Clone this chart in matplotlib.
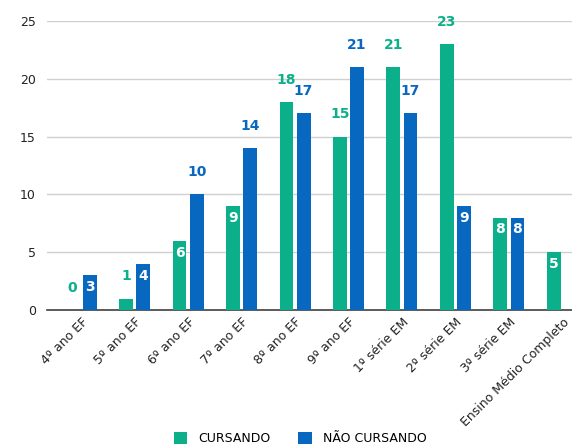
import matplotlib
matplotlib.use("Agg")
import matplotlib.pyplot as plt
import numpy as np

categories = ["4º ano EF", "5º ano EF", "6º ano EF", "7º ano EF", "8º ano EF",
              "9º ano EF", "1º série EM", "2º série EM", "3º série EM",
              "Ensino Médio Completo"]
cursando = [0, 1, 6, 9, 18, 15, 21, 23, 8, 5]
nao_cursando = [3, 4, 10, 14, 17, 21, 17, 9, 8, np.nan]
series_names = ["CURSANDO", "NÃO CURSANDO"]
yticks = [0, 5, 10, 15, 20, 25]

GREEN = "#0BB08A"
BLUE = "#0868C0"

fig = plt.figure(figsize=(5.72, 4.45), dpi=100)
ax = fig.add_axes([0.082, 0.303, 0.918, 0.650])

x = np.arange(len(categories))
w = 0.26
off = 0.16

for vals, color, sign, name in [(cursando, GREEN, -1, series_names[0]),
                                (nao_cursando, BLUE, 1, series_names[1])]:
    vals = np.array(vals, dtype=float)
    mask = ~np.isnan(vals)
    ax.bar(x[mask] + sign * off, vals[mask], width=w, color=color, label=name,
           zorder=3)
    for xi, v in zip(x[mask], vals[mask]):
        xp = xi + sign * off
        if 2 <= v < 10:
            ax.annotate(f"{int(v)}", (xp, v), xytext=(0, -8.5),
                        textcoords="offset points", ha="center", va="center",
                        color="white", fontsize=10, fontweight="bold", zorder=4)
        else:
            ax.annotate(f"{int(v)}", (xp, v), xytext=(0, 16),
                        textcoords="offset points", ha="center", va="center",
                        color=color, fontsize=10, fontweight="bold", zorder=4)

ax.set_xlim(-0.64, 9.18)
ax.set_ylim(0, 25)
ax.set_yticks(yticks)
ax.yaxis.grid(True, color="#D0D0D0", linewidth=1, zorder=0)
ax.set_axisbelow(True)
for s in ["top", "right", "left"]:
    ax.spines[s].set_visible(False)
ax.spines["bottom"].set_color("#404040")
ax.spines["bottom"].set_linewidth(1.2)
ax.tick_params(axis="y", length=0, labelsize=9, pad=8, labelcolor="#222222")
ax.tick_params(axis="x", length=0, labelsize=9, labelcolor="#222222", pad=4)
ax.set_xticks(x)
ax.set_xticklabels(categories, rotation=45, ha="right", rotation_mode="anchor")

fig.legend(loc="lower center", bbox_to_anchor=(0.525, -0.025), ncol=2,
           frameon=False, fontsize=9, handlelength=1.1, handleheight=1.1,
           columnspacing=2.2, handletextpad=0.9)

fig.savefig("out.png", dpi=100)
